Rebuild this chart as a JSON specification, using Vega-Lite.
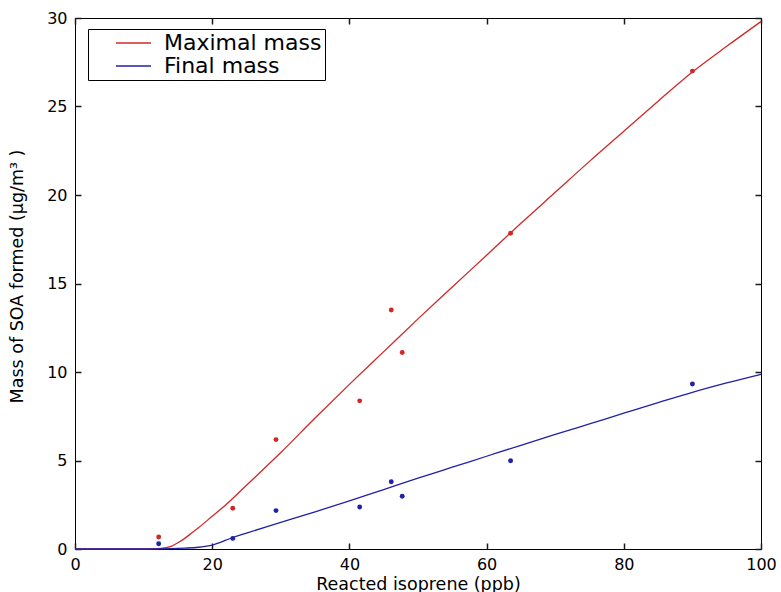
{
  "$schema": "https://vega.github.io/schema/vega-lite/v6.json",
  "width": 686,
  "height": 531,
  "autosize": "none",
  "padding": {"left": 75, "top": 18, "right": 20, "bottom": 43},
  "background": "white",
  "datasets": {
    "curves": [
      {"series": "Maximal mass", "x": 0, "y": 0},
      {"series": "Maximal mass", "x": 10, "y": 0},
      {"series": "Maximal mass", "x": 12, "y": 0.02},
      {"series": "Maximal mass", "x": 13, "y": 0.06},
      {"series": "Maximal mass", "x": 14, "y": 0.15},
      {"series": "Maximal mass", "x": 15, "y": 0.35},
      {"series": "Maximal mass", "x": 16, "y": 0.6},
      {"series": "Maximal mass", "x": 17, "y": 0.9},
      {"series": "Maximal mass", "x": 18, "y": 1.2},
      {"series": "Maximal mass", "x": 20, "y": 1.85},
      {"series": "Maximal mass", "x": 22, "y": 2.5},
      {"series": "Maximal mass", "x": 25, "y": 3.6},
      {"series": "Maximal mass", "x": 30, "y": 5.45},
      {"series": "Maximal mass", "x": 35, "y": 7.4},
      {"series": "Maximal mass", "x": 40, "y": 9.3},
      {"series": "Maximal mass", "x": 45, "y": 11.15},
      {"series": "Maximal mass", "x": 50, "y": 13.0},
      {"series": "Maximal mass", "x": 55, "y": 14.8},
      {"series": "Maximal mass", "x": 60, "y": 16.6},
      {"series": "Maximal mass", "x": 65, "y": 18.4},
      {"series": "Maximal mass", "x": 70, "y": 20.15},
      {"series": "Maximal mass", "x": 75, "y": 21.9},
      {"series": "Maximal mass", "x": 80, "y": 23.6},
      {"series": "Maximal mass", "x": 85, "y": 25.3},
      {"series": "Maximal mass", "x": 90, "y": 26.95},
      {"series": "Maximal mass", "x": 95, "y": 28.4},
      {"series": "Maximal mass", "x": 100, "y": 29.8},
      {"series": "Final mass", "x": 0, "y": 0},
      {"series": "Final mass", "x": 10, "y": 0},
      {"series": "Final mass", "x": 14, "y": 0.02},
      {"series": "Final mass", "x": 16, "y": 0.05},
      {"series": "Final mass", "x": 18, "y": 0.1},
      {"series": "Final mass", "x": 19, "y": 0.15},
      {"series": "Final mass", "x": 20, "y": 0.22},
      {"series": "Final mass", "x": 21, "y": 0.35},
      {"series": "Final mass", "x": 22, "y": 0.5},
      {"series": "Final mass", "x": 23, "y": 0.65},
      {"series": "Final mass", "x": 25, "y": 0.9},
      {"series": "Final mass", "x": 30, "y": 1.5},
      {"series": "Final mass", "x": 35, "y": 2.1},
      {"series": "Final mass", "x": 40, "y": 2.72},
      {"series": "Final mass", "x": 45, "y": 3.36},
      {"series": "Final mass", "x": 50, "y": 4.0},
      {"series": "Final mass", "x": 55, "y": 4.62},
      {"series": "Final mass", "x": 60, "y": 5.24},
      {"series": "Final mass", "x": 65, "y": 5.86},
      {"series": "Final mass", "x": 70, "y": 6.47},
      {"series": "Final mass", "x": 75, "y": 7.07},
      {"series": "Final mass", "x": 80, "y": 7.67},
      {"series": "Final mass", "x": 85, "y": 8.27},
      {"series": "Final mass", "x": 90, "y": 8.85},
      {"series": "Final mass", "x": 95, "y": 9.38},
      {"series": "Final mass", "x": 100, "y": 9.87}
    ],
    "points": [
      {"series": "Maximal mass", "x": 12.2, "y": 0.68},
      {"series": "Maximal mass", "x": 23.0, "y": 2.3},
      {"series": "Maximal mass", "x": 29.3, "y": 6.18},
      {"series": "Maximal mass", "x": 41.5, "y": 8.37},
      {"series": "Maximal mass", "x": 46.1, "y": 13.5},
      {"series": "Maximal mass", "x": 47.7, "y": 11.1},
      {"series": "Maximal mass", "x": 63.5, "y": 17.84},
      {"series": "Maximal mass", "x": 90.0, "y": 27.0},
      {"series": "Final mass", "x": 12.2, "y": 0.3},
      {"series": "Final mass", "x": 23.0, "y": 0.6},
      {"series": "Final mass", "x": 29.3, "y": 2.17},
      {"series": "Final mass", "x": 41.5, "y": 2.37},
      {"series": "Final mass", "x": 46.1, "y": 3.8},
      {"series": "Final mass", "x": 47.7, "y": 2.98},
      {"series": "Final mass", "x": 63.5, "y": 4.99},
      {"series": "Final mass", "x": 90.0, "y": 9.32}
    ]
  },
  "config": {
    "font": "DejaVu Sans",
    "view": {"stroke": "black", "strokeWidth": 1}
  },
  "resolve": {"axis": {"x": "independent", "y": "independent"}},
  "layer": [
    {
      "data": {"name": "curves"},
      "mark": {"type": "line", "strokeWidth": 1.3, "interpolate": "monotone"},
      "encoding": {
        "x": {
          "field": "x", "type": "quantitative",
          "scale": {"domain": [0, 100], "nice": false},
          "axis": {
            "title": "Reacted isoprene (ppb)", "tickCount": 5, "grid": false, "domain": false,
            "tickColor": "#1a1a1a", "tickSize": -6, "tickWidth": 1.5,
            "labelColor": "black", "labelFont": "DejaVu Sans", "labelFontSize": 16, "labelPadding": 13, "labelFlush": false,
            "titleColor": "black", "titleFont": "DejaVu Sans", "titleFontWeight": "normal", "titleFontSize": 17.5, "titlePadding": 3
          }
        },
        "y": {
          "field": "y", "type": "quantitative",
          "scale": {"domain": [0, 30], "nice": false},
          "axis": {
            "title": "Mass of SOA formed (μg/m³ )", "tickCount": 6, "grid": false, "domain": false,
            "tickColor": "#1a1a1a", "tickSize": -6, "tickWidth": 1.5,
            "labelColor": "black", "labelFont": "DejaVu Sans", "labelFontSize": 16, "labelPadding": 14,
            "titleColor": "black", "titleFont": "DejaVu Sans", "titleFontWeight": "normal", "titleFontSize": 17.5, "titlePadding": 20, "titleY": 258
          }
        },
        "color": {
          "field": "series", "type": "nominal",
          "scale": {"domain": ["Maximal mass", "Final mass"], "range": ["#d02828", "#2020a8"]},
          "legend": {
            "title": null,
            "direction": "vertical",
            "orient": "none",
            "legendX": 13,
            "legendY": 11,
            "symbolType": "M-1.75,0H1.75",
            "symbolSize": 400,
            "symbolStrokeWidth": 1.3,
            "symbolOffset": 31.5,
            "labelOffset": 19.5,
            "labelFontSize": 22,
            "labelLimit": 400,
            "labelFont": "DejaVu Sans",
            "labelColor": "black",
            "rowPadding": 1,
            "padding": 3,
            "strokeColor": "black",
            "fillColor": "white"
          }
        },
        "detail": {"field": "series"}
      }
    },
    {
      "data": {"name": "points"},
      "mark": {"type": "circle", "size": 24, "opacity": 1},
      "encoding": {
        "x": {
          "field": "x", "type": "quantitative",
          "scale": {"domain": [0, 100], "nice": false},
          "axis": {"orient": "top", "title": null, "labels": false, "tickCount": 5, "grid": false, "domain": false, "tickColor": "#1a1a1a", "tickSize": -6, "tickWidth": 1.5}
        },
        "y": {
          "field": "y", "type": "quantitative",
          "scale": {"domain": [0, 30], "nice": false},
          "axis": {"orient": "right", "title": null, "labels": false, "tickCount": 6, "grid": false, "domain": false, "tickColor": "#1a1a1a", "tickSize": -6, "tickWidth": 1.5}
        },
        "color": {"field": "series", "type": "nominal", "legend": null}
      }
    }
  ]
}
